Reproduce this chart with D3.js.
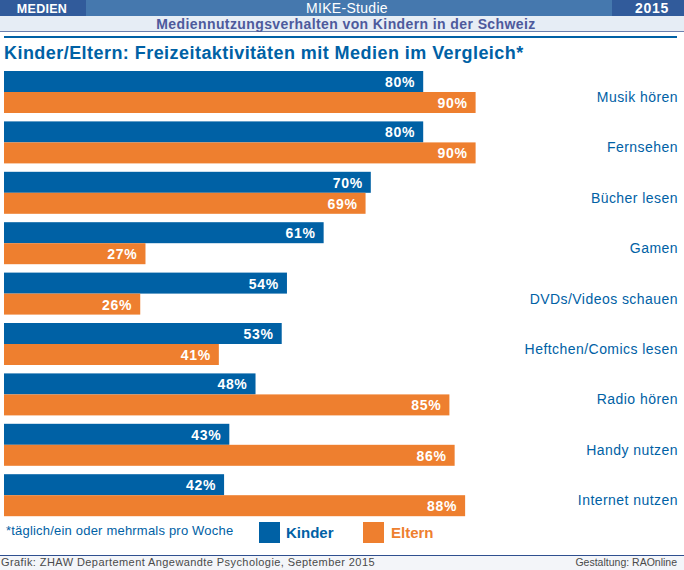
<!DOCTYPE html>
<html><head><meta charset="utf-8">
<script src="https://cdnjs.cloudflare.com/ajax/libs/d3/7.8.5/d3.min.js"></script>
<style>html,body{margin:0;padding:0;background:#fff}svg{display:block}text{font-family:"Liberation Sans",Arial,sans-serif}</style>
</head><body><div id="c"></div>
<script>
const categories=["Musik hören","Fernsehen","Bücher lesen","Gamen","DVDs/Videos schauen","Heftchen/Comics lesen","Radio hören","Handy nutzen","Internet nutzen"];
const kinder=[80,80,70,61,54,53,48,43,42];
const eltern=[90,90,69,27,26,41,85,86,88];
const seriesNames=["Kinder","Eltern"];
const colors={Kinder:"#0061a5",Eltern:"#ee7f2f"};
const W=684,H=570;
const svg=d3.select("#c").append("svg").attr("width",W).attr("height",H);
const x=d3.scaleLinear().domain([0,100]).range([4,528]);
const y=d3.scaleBand().domain(categories).range([71,516.2]).paddingInner(0.1667).paddingOuter(0);
const inner=d3.scaleBand().domain(seriesNames).range([0,y.bandwidth()]);
function rect(a,b,w,h,f){return svg.append("rect").attr("x",a).attr("y",b).attr("width",w).attr("height",h).attr("fill",f);}
function text(a,b,s,size,fill,anchor,weight,ls){return svg.append("text").attr("x",a).attr("y",b).attr("font-size",size).attr("fill",fill).attr("text-anchor",anchor||"start").attr("font-weight",weight||"normal").attr("letter-spacing",ls||0).text(s);}
rect(0,0,W,16,"#4578ae");
rect(0,0,86,16,"#315b9b");
rect(612,0,72,16,"#315b9b");
rect(0,16,W,15,"#e6edf5");
rect(0,31,W,1,"#6a7fae");
rect(4,36,673,2,"#0061a5");
text(42,13,"MEDIEN",12.5,"#fff","middle","bold",0.3);
text(347,13,"MIKE-Studie",14,"#fff","middle","normal",0.3);
text(652,13,"2015",14,"#fff","middle","bold",0.7);
text(346,29,"Mediennutzungsverhalten von Kindern in der Schweiz",14,"#4d5a9c","middle","bold",0.4);
text(4,59,"Kinder/Eltern: Freizeitaktivitäten mit Medien im Vergleich*",18,"#0061a5","start","bold",0.45);
const rows=svg.append("g").selectAll("g").data(categories).join("g").attr("transform",d=>`translate(0,${y(d)})`);
[["Kinder",kinder],["Eltern",eltern]].forEach(([name,vals])=>{
  rows.append("rect").attr("x",x(0)).attr("y",inner(name)).attr("width",(d,i)=>x(vals[i])-x(0)).attr("height",inner.bandwidth()).attr("fill",colors[name]);
  rows.append("text").attr("x",(d,i)=>x(vals[i])-8).attr("y",inner(name)+inner.bandwidth()/2+5.5).attr("text-anchor","end").attr("font-size",14).attr("font-weight","bold").attr("letter-spacing",0.7).attr("fill","#fff").text((d,i)=>vals[i]+"%");
});
rows.append("text").attr("x",678).attr("y",y.bandwidth()/2+10).attr("text-anchor","end").attr("font-size",14).attr("letter-spacing",0.45).attr("fill","#0061a5").text(d=>d);
text(6,535,"*täglich/ein oder mehrmals pro Woche",13,"#0061a5","start","normal",0.2);
rect(259,522,21,21,colors.Kinder);
text(286,538,"Kinder",15,"#0061a5","start","bold",0);
rect(363,522,21,21,colors.Eltern);
text(391,538,"Eltern",15,"#ee7f2f","start","bold",0);
rect(0,555,W,15,"#f3f5f9");
rect(0,555,W,1,"#2f4f8f");
text(1,566,"Grafik: ZHAW Departement Angewandte Psychologie, September 2015",11,"#4a4a4a","start","normal",0.42);
text(677,566,"Gestaltung: RAOnline",10.5,"#4a4a4a","end","normal",0);
</script></body></html>
